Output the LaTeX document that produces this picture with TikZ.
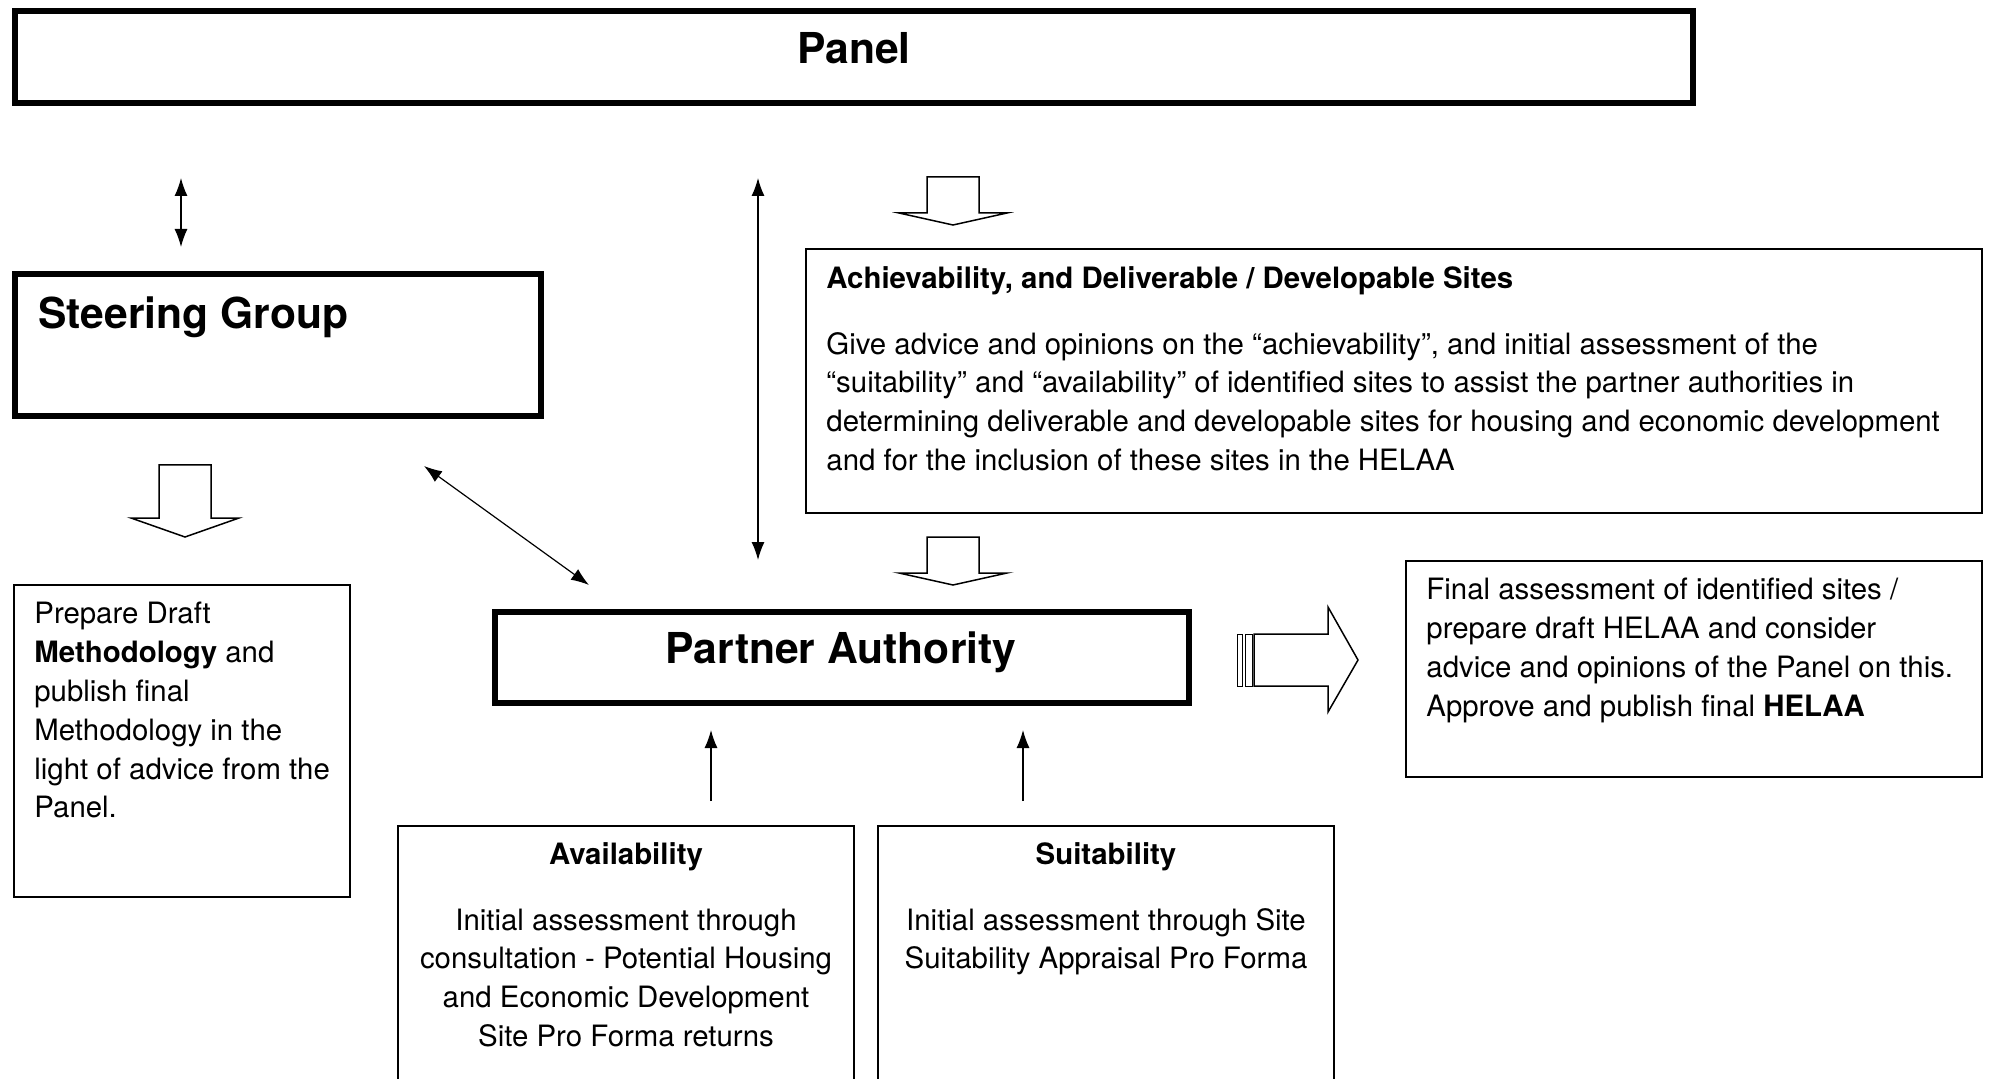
\documentclass[tikz,border=0pt]{standalone}
\usepackage{fontspec}
\setmainfont{TeX Gyre Heros}
\usetikzlibrary{arrows.meta, positioning, fit, calc}

\tikzset{
  thickbox/.style={draw, line width=2.8pt, inner sep=0pt},
  thinbox/.style={draw, line width=0.65pt, inner sep=0pt},
  title/.style={font=\fontsize{21.3}{25}\selectfont\bfseries, inner sep=0pt},
  bodytext/.style={font=\fontsize{14.7}{19.4}\selectfont, inner sep=0pt, align=left},
  twoway/.style={<->, line width=0.6pt},
  oneway/.style={->, line width=0.6pt},
  hollow/.style={draw, line width=0.75pt, line join=miter},
}

% hollow block arrow pointing down: x, top, head start, tip
\newcommand{\hollowdown}[4]{%
  \draw[hollow] (#1-26,#2) -- (#1+26,#2) -- (#1+26,#3) -- (#1+54,#3) -- (#1,#4)
    -- (#1-54,#3) -- (#1-26,#3) -- cycle;
}

\begin{document}
\begin{tikzpicture}[x=0.5pt, y=-0.5pt, >={Latex[length=9pt,width=6.5pt]}]
  \useasboundingbox (0,0) rectangle (1990,1079);

  % boxes
  \node[thickbox, fit={(15,11) (1693,103)}] (panel) {};
  \node[thickbox, fit={(15,274) (541,416)}] (steer) {};
  \node[thickbox, fit={(495,612) (1189,703)}] (partner) {};
  \node[thinbox, fit={(806,249) (1982,513)}] (achiev) {};
  \node[thinbox, fit={(1406,561) (1982,777)}] (final) {};
  \node[thinbox, fit={(14,585) (350,897)}] (prepare) {};
  \node[thinbox, fit={(398,826) (854,1095)}] (avail) {};
  \node[thinbox, fit={(878,826) (1334,1095)}] (suit) {};

  % texts
  \node[title] (panel-t) at (854,48) {Panel};
  \node[title, anchor=west] (steer-t) at (38,317) {Steering Group};
  \node[title] (partner-t) at (841,652) {Partner Authority};
  \node[bodytext, anchor=north west] (achiev-t) at (826,266) {%
    \textbf{Achievability, and Deliverable / Developable Sites}\\[13.5pt]
    Give advice and opinions on the “achievability”, and initial assessment of the\\
    “suitability” and “availability” of identified sites to assist the partner authorities in\\
    determining deliverable and developable sites for housing and economic development\\
    and for the inclusion of these sites in the HELAA};
  \node[bodytext, anchor=north west] (final-t) at (1426,578) {%
    Final assessment of identified sites /\\
    prepare draft HELAA and consider\\
    advice and opinions of the Panel on this.\\
    Approve and publish final \textbf{HELAA}};
  \node[bodytext, anchor=north west] (prepare-t) at (34,602) {%
    Prepare Draft\\
    \textbf{Methodology} and\\
    publish final\\
    Methodology in the\\
    light of advice from the\\
    Panel.};
  \node[bodytext, align=center, anchor=north] (avail-t) at (626,842) {%
    \textbf{Availability}\\[13.5pt]
    Initial assessment through\\
    consultation - Potential Housing\\
    and Economic Development\\
    Site Pro Forma returns};
  \node[bodytext, align=center, anchor=north] (suit-t) at (1106,842) {%
    \textbf{Suitability}\\[13.5pt]
    Initial assessment through Site\\
    Suitability Appraisal Pro Forma};

  % arrow ends
  \coordinate (sg-a) at (181,178);
  \coordinate (sg-b) at (181,247);
  \coordinate (pa-a) at (758,178);
  \coordinate (pa-b) at (758,560);
  \coordinate (dg-a) at (424,466);
  \coordinate (dg-b) at (589,585);
  \coordinate (av-a) at (711,801);
  \coordinate (av-b) at (711,730);
  \coordinate (su-a) at (1023,801);
  \coordinate (su-b) at (1023,730);

  \draw[twoway] (sg-a) -- (sg-b);
  \draw[twoway] (pa-a) -- (pa-b);
  \draw[twoway] (dg-a) -- (dg-b);
  \draw[oneway] (av-a) -- (av-b);
  \draw[oneway] (su-a) -- (su-b);

  % block arrows
  \hollowdown{953}{177}{213}{225}
  \hollowdown{953}{537}{573}{585}
  \hollowdown{185}{465}{518}{537}

  % striped arrow to the right
  \draw[hollow, line width=0.5pt] (1237,634) rectangle (1242,686);
  \draw[hollow, line width=0.5pt] (1245,634) rectangle (1252,686);
  \draw[hollow] (1254,634) -- (1328,634) -- (1328,607) -- (1358,660)
    -- (1328,712) -- (1328,686) -- (1254,686) -- cycle;
\end{tikzpicture}
\end{document}
